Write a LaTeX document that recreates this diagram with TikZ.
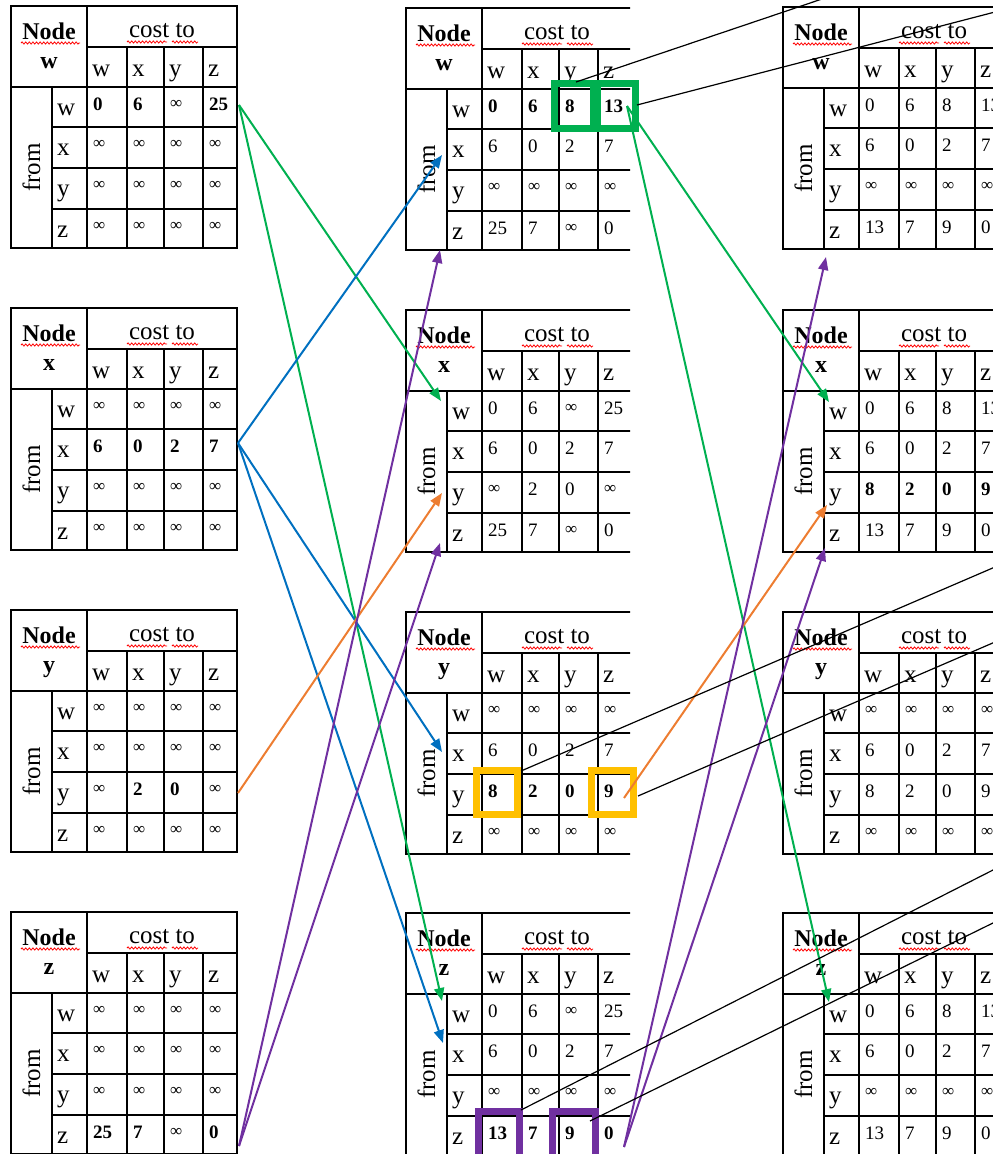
\documentclass[tikz,border=0pt]{standalone}
\usepackage{fontspec}
\setmainfont{Liberation Serif}
\usetikzlibrary{arrows.meta,decorations.pathmorphing}
\definecolor{cgreen}{HTML}{00B050}
\definecolor{cblue}{HTML}{0070C0}
\definecolor{corange}{HTML}{ED7D31}
\definecolor{cpurple}{HTML}{7030A0}
\definecolor{cgold}{HTML}{FFC000}
\newcommand{\I}{\raisebox{2pt}{\fontsize{17}{17}\selectfont ∞}}
\newcommand{\B}[1]{\textbf{#1}}
\tikzset{
 grid/.style={line width=1.3pt, black},
 big/.style={font=\fontsize{25}{25}\selectfont, inner sep=0pt},
 bigb/.style={font=\fontsize{24}{24}\selectfont\bfseries, inner sep=0pt},
 dat/.style={font=\fontsize{19}{19}\selectfont, inner sep=0pt, anchor=base west},
 wavy/.style={red, line width=0.8pt, decorate, decoration={snake, amplitude=1.1pt, segment length=3.6pt}},
 arr/.style={line width=2pt, -{Triangle[length=13pt,width=10pt]}},
 hl/.style={line width=7pt},
 thinl/.style={line width=1.2pt, black},
}
\newcommand{\dvtable}[5]{%
\begin{scope}[shift={(#2,#3)}]
 \draw[grid] (0,0) rectangle (226,242);
 \draw[grid] (76,41) -- (226,41);
 \draw[grid] (0,81) -- (226,81);
 \foreach \yy in {121,162,203} \draw[grid] (41,\yy) -- (226,\yy);
 \draw[grid] (41,81) -- (41,242);
 \draw[grid] (76,0) -- (76,242);
 \foreach \xx in {116,153,192} \draw[grid] (\xx,41) -- (\xx,242);
 \node[bigb, anchor=base] (#1-hd) at (38,33) {Node};
 \node[bigb, anchor=base] (#1-me) at (38,62) {#4};
 \draw[wavy] (10,37) -- (69,37);
 \node[big, anchor=base] (#1-ct) at (151,31) {cost to};
 \draw[wavy] (116,36) -- (156,36);
 \draw[wavy] (161,36) -- (187,36);
 \node[big, rotate=90] (#1-from) at (20.5,161.5) {from};
 \foreach \l [count=\i from 0] in {w,x,y,z} {
   \pgfmathsetmacro\cx{{76,116,153,192}[\i]}
   \pgfmathsetmacro\ry{{81,121,162,203}[\i]}
   \node[big, anchor=base west] (#1-c\l) at (\cx+5,70) {\l};
   \node[big, anchor=base west] (#1-r\l) at (46,\ry+28) {\l};
 }
 \foreach \v [count=\k from 0] in {#5} {
   \pgfmathtruncatemacro\cc{mod(\k,4)}
   \pgfmathtruncatemacro\rr{\k/4}
   \pgfmathsetmacro\cx{{76,116,153,192}[\cc]}
   \pgfmathsetmacro\ry{{81,121,162,203}[\rr]}
   \node[dat] (#1-d\k) at (\cx+6,\ry+23) {\v};
 }
\end{scope}}
\begin{document}
\begin{tikzpicture}[x=1pt,y=-1pt]
\useasboundingbox (0,0) rectangle (993,1154);
\clip (0,0) rectangle (993,1154);
% left column
\dvtable{LW}{11}{6}{w}{\B{0},\B{6},\I,\B{25},\I,\I,\I,\I,\I,\I,\I,\I,\I,\I,\I,\I}
\dvtable{LX}{11}{308}{x}{\I,\I,\I,\I,\B{6},\B{0},\B{2},\B{7},\I,\I,\I,\I,\I,\I,\I,\I}
\dvtable{LY}{11}{610}{y}{\I,\I,\I,\I,\I,\I,\I,\I,\I,\B{2},\B{0},\I,\I,\I,\I,\I}
\dvtable{LZ}{11}{912}{z}{\I,\I,\I,\I,\I,\I,\I,\I,\I,\I,\I,\I,\B{25},\B{7},\I,\B{0}}
% middle column
\begin{scope}
\clip (0,0) rectangle (630,1154);
\dvtable{MW}{406}{8}{w}{\B{0},\B{6},\B{8},\B{13},6,0,2,7,\I,\I,\I,\I,25,7,\I,0}
\dvtable{MX}{406}{310}{x}{0,6,\I,25,6,0,2,7,\I,2,0,\I,25,7,\I,0}
\dvtable{MY}{406}{612}{y}{\I,\I,\I,\I,6,0,2,7,\B{8},\B{2},\B{0},\B{9},\I,\I,\I,\I}
\dvtable{MZ}{406}{913}{z}{0,6,\I,25,6,0,2,7,\I,\I,\I,\I,\B{13},\B{7},\B{9},\B{0}}
\end{scope}
% right column
\dvtable{RW}{783}{7}{w}{0,6,8,13,6,0,2,7,\I,\I,\I,\I,13,7,9,0}
\dvtable{RX}{783}{310}{x}{0,6,8,13,6,0,2,7,\B{8},\B{2},\B{0},\B{9},13,7,9,0}
\dvtable{RY}{783}{612}{y}{\I,\I,\I,\I,6,0,2,7,8,2,0,9,\I,\I,\I,\I}
\dvtable{RZ}{783}{913}{z}{0,6,8,13,6,0,2,7,\I,\I,\I,\I,13,7,9,0}
% highlight boxes
\draw[hl, cgreen] (554.5,83.5) rectangle (593.5,128.5);
\draw[hl, cgreen] (597,83.5) rectangle (635.5,128.5);
\draw[hl, cgold] (476.5,770.5) rectangle (517.5,814.5);
\draw[hl, cgold] (591.5,770.5) rectangle (633.5,814.5);
\draw[hl, cpurple] (478.5,1111.5) rectangle (519.5,1170);
\draw[hl, cpurple] (552.5,1111.5) rectangle (595.5,1170);
% connector end points
\coordinate (gA) at (239,105);
\coordinate (bA) at (238,443);
\coordinate (oA) at (238,793);
\coordinate (pA) at (239,1146);
\coordinate (gB) at (627,106);
\coordinate (oB) at (624,798);
\coordinate (pB) at (624,1147);
\coordinate (mWx) at (442,155);
\coordinate (mWb) at (440,250);
\coordinate (mXw) at (441,401);
\coordinate (mXy) at (442,493);
\coordinate (mXb) at (440,543);
\coordinate (mYx) at (442,752);
\coordinate (mZw) at (442,1001);
\coordinate (mZx) at (443,1043);
\coordinate (rWb) at (826,257);
\coordinate (rXw) at (829,402);
\coordinate (rXy) at (827,505);
\coordinate (rXb) at (825,548);
\coordinate (rZw) at (829,1002);
\coordinate (k1a) at (576,82);   \coordinate (k1b) at (822,-1);
\coordinate (k2a) at (637,105);  \coordinate (k2b) at (995,12);
\coordinate (k3a) at (521,771);  \coordinate (k3b) at (995,567);
\coordinate (k4a) at (638,796);  \coordinate (k4b) at (995,642);
\coordinate (k5a) at (521,1110); \coordinate (k5b) at (995,869);
\coordinate (k6a) at (590,1121); \coordinate (k6b) at (995,922);
% first stage
\draw[arr, cgreen] (gA) -- (mXw);
\draw[arr, cgreen] (gA) -- (mZw);
\draw[arr, cblue] (bA) -- (mWx);
\draw[arr, cblue] (bA) -- (mYx);
\draw[arr, cblue] (bA) -- (mZx);
\draw[arr, corange] (oA) -- (mXy);
\draw[arr, cpurple] (pA) -- (mWb);
\draw[arr, cpurple] (pA) -- (mXb);
% second stage
\draw[arr, cgreen] (gB) -- (rXw);
\draw[arr, cgreen] (gB) -- (rZw);
\draw[arr, corange] (oB) -- (rXy);
\draw[arr, cpurple] (pB) -- (rWb);
\draw[arr, cpurple] (pB) -- (rXb);
% black lines
\draw[thinl] (k1a) -- (k1b);
\draw[thinl] (k2a) -- (k2b);
\draw[thinl] (k3a) -- (k3b);
\draw[thinl] (k4a) -- (k4b);
\draw[thinl] (k5a) -- (k5b);
\draw[thinl] (k6a) -- (k6b);
\end{tikzpicture}
\end{document}
